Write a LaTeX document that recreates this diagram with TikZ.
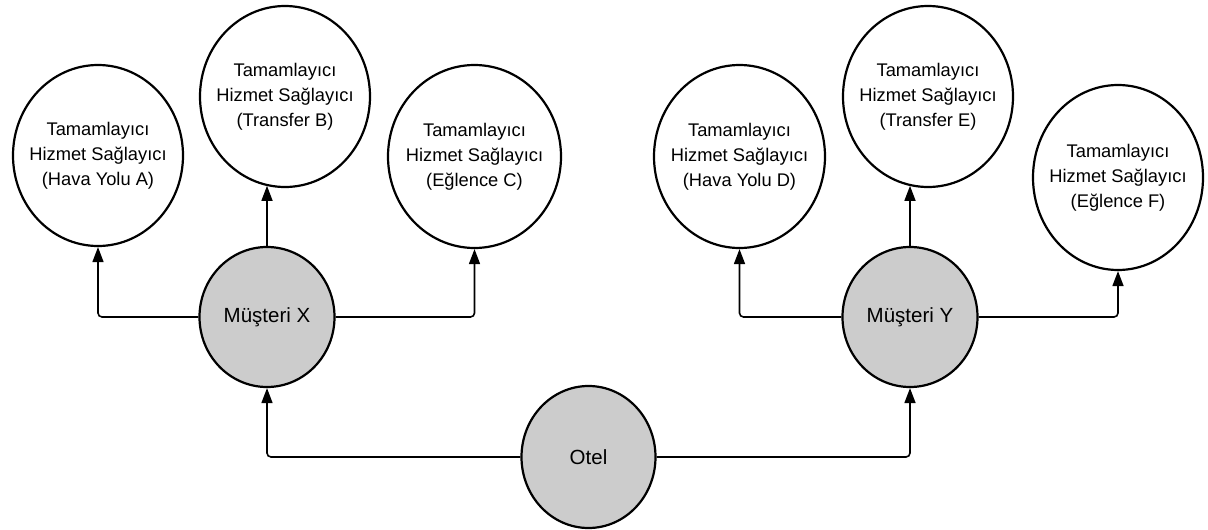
\documentclass[tikz,border=0pt]{standalone}
\usepackage{fontspec}
\setmainfont{Liberation Sans}
\usetikzlibrary{arrows.meta,shapes.geometric}
\definecolor{custfill}{HTML}{CCCCCC}
\begin{document}
\begin{tikzpicture}[x=1pt,y=-1pt,
  bubble/.style={ellipse, draw=black, line width=2.2pt, inner sep=0pt,
    align=center, font=\fontsize{18.3}{25}\selectfont},
  provider/.style={bubble, fill=white, inner xsep=-25pt,
    minimum width=170pt, minimum height=181pt},
  party/.style={bubble, fill=custfill, minimum width=135pt, minimum height=140pt,
    font=\fontsize{20.5}{25}\selectfont},
  conn/.style={draw=black, line width=1.6pt, rounded corners=4pt,
    -{Triangle[length=15pt,width=11pt]}}]
\useasboundingbox (0,0) rectangle (1208,530);

% service providers
\node[provider] (hA) at (98,155.5) {Tamamlayıcı\\Hizmet Sağlayıcı\\(Hava Yolu A)};
\node[provider] (tB) at (285,96.5) {Tamamlayıcı\\Hizmet Sağlayıcı\\(Transfer B)};
\node[provider, minimum width=173pt, minimum height=183pt] (eC) at (474.5,156.5) {Tamamlayıcı\\Hizmet Sağlayıcı\\(Eğlence C)};
\node[provider, minimum width=171pt, minimum height=183pt] (hD) at (739.5,156.5) {Tamamlayıcı\\Hizmet Sağlayıcı\\(Hava Yolu D)};
\node[provider] (tE) at (928,96.5) {Tamamlayıcı\\Hizmet Sağlayıcı\\(Transfer E)};
\node[provider, minimum height=185pt] (eF) at (1118,177.5) {Tamamlayıcı\\Hizmet Sağlayıcı\\(Eğlence F)};

% customers and hotel
\node[party] (mX) at (267,317) {Müşteri X};
\node[party] (mY) at (910,317) {Müşteri Y};
\node[party, minimum width=134pt, minimum height=142pt] (otel) at (588.5,457) {Otel};

% customer X links
\draw[conn] (mX.west) -| (hA.south);
\draw[conn] (mX.north) -- (mX.north |- tB.258);
\draw[conn] (mX.east) -| (eC.south);

% customer Y links
\draw[conn] (mY.west) -| (hD.south);
\draw[conn] (mY.north) -- (mY.north |- tE.258);
\draw[conn] (mY.east) -| (eF.south);

% hotel links
\draw[conn] (otel.west) -| (mX.south);
\draw[conn] (otel.east) -| (mY.south);
\end{tikzpicture}
\end{document}
